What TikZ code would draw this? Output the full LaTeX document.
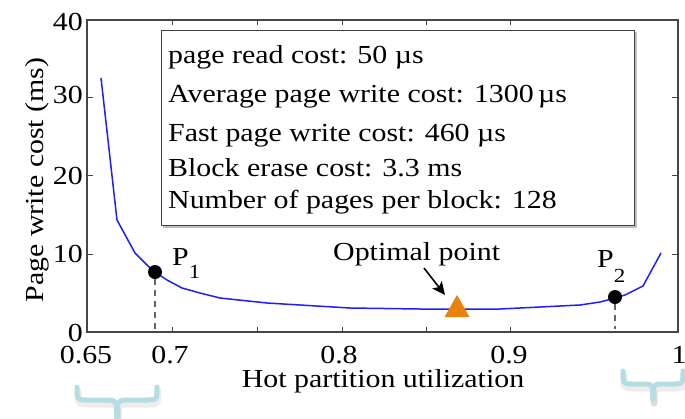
\documentclass[tikz,border=0pt]{standalone}
\usepackage{fontspec}
\setmainfont[FakeStretch=1.15]{Liberation Serif}
\usetikzlibrary{arrows.meta}
\definecolor{curveblue}{RGB}{30,30,255}
\definecolor{optorange}{RGB}{232,130,12}
\definecolor{bracecol}{RGB}{180,222,226}
\definecolor{axisgray}{RGB}{70,70,70}
\newcommand{\bigfont}{\fontsize{26bp}{30bp}\selectfont}
\newcommand{\subfont}{\fontsize{20bp}{22bp}\selectfont}
\tikzset{
  axisline/.style={draw=axisgray, line width=1.2bp},
  tickmark/.style={draw=axisgray, line width=1bp},
  ticklabel/.style={font=\bigfont, inner sep=0pt},
  legendtext/.style={font=\bigfont, inner sep=0pt, anchor=base west},
  curve/.style={draw=curveblue, line width=1.5bp, line join=round},
  dotmark/.style={circle, fill=black, minimum size=14bp, inner sep=0pt},
  dashline/.style={draw=black!60, line width=1.5bp, dash pattern=on 6bp off 5bp},
  bracestyle/.style={draw=bracecol, line width=5bp, line cap=round, line join=round},
  braceshadow/.style={draw=black, opacity=0.07, line width=7bp, line cap=round, line join=round},
  ptlabel/.style={font=\bigfont, inner sep=0pt, anchor=base west},
}
\begin{document}
\begin{tikzpicture}[x=1bp,y=-1bp]
\useasboundingbox (0,0) rectangle (685,418);
\fill[white] (0,0) rectangle (685,418);

% legend box with shadow
\draw[draw=black!25, line width=2bp] (636,32) -- (636,227) -- (163,227);
\draw[draw=black!75, line width=1bp, fill=white] (161,30) rectangle (634,225);
\node[legendtext] (l1) at (168,63) {page read cost: 50 µs};
\node[legendtext] (l2) at (168,102) {Average page write cost: 1300\,µs};
\node[legendtext] (l3) at (168,141) {Fast page write cost: 460 µs};
\node[legendtext] (l4) at (168,176) {Block erase cost: 3.3 ms};
\node[legendtext] (l5) at (168,208) {Number of pages per block: 128};

% axes box
\draw[axisline] (87,20) rectangle (678,332);
\foreach \x in {172,257,342,426,510}{
  \draw[tickmark] (\x,332) -- (\x,327);
  \draw[tickmark] (\x,20) -- (\x,25);
}
\foreach \y in {97,175,254}{
  \draw[tickmark] (87,\y) -- (93,\y);
  \draw[tickmark] (678,\y) -- (672,\y);
}

% tick labels
\node[ticklabel, anchor=east] (y40) at (83,22) {40};
\node[ticklabel, anchor=east] (y30) at (83,95) {30};
\node[ticklabel, anchor=east] (y20) at (83,176) {20};
\node[ticklabel, anchor=east] (y10) at (83,254) {10};
\node[ticklabel, anchor=east] (y0) at (83,333) {0};
\node[ticklabel, anchor=base] (x065) at (86,363) {0.65};
\node[ticklabel, anchor=base] (x07) at (170,363) {0.7};
\node[ticklabel, anchor=base] (x08) at (339,363) {0.8};
\node[ticklabel, anchor=base] (x09) at (509,363) {0.9};
\node[ticklabel, anchor=base] (x1) at (679,363) {1};

% axis titles
\node[ticklabel, anchor=base] (xlab) at (383,387) {Hot partition utilization};
\node[ticklabel, anchor=base, rotate=90] (ylab) at (43,180) {Page write cost (ms)};

% curve
\draw[curve] (101,78) -- (117,220) -- (135,253) -- (147,265) -- (155,272) -- (167,280)
  -- (182,288) -- (200,293) -- (220,298) -- (267,303) -- (350,308) -- (420,309)
  -- (457,309) -- (500,309) -- (540,307) -- (580,305) -- (600,302) -- (615,298)
  -- (625,295) -- (643,286) -- (661,253);

% special points
\node[dotmark] (p1dot) at (155,272) {};
\node[dotmark] (p2dot) at (615,297) {};
\coordinate (p1foot) at (155,329);
\coordinate (p2foot) at (615,329);
\draw[dashline] (p1dot.south) -- (p1foot);
\draw[dashline] (p2dot.south) -- (p2foot);
\node[ptlabel] (p1lab) at (172,265) {P\raisebox{-13bp}{\subfont 1}};
\node[ptlabel] (p2lab) at (597,267) {P\raisebox{-15bp}{\subfont 2}};

% optimal point
\fill[optorange] (457,295) -- (469.5,317) -- (444.5,317) -- cycle;
\coordinate (opttip) at (445,295);
\node[ptlabel] (optlab) at (333,260) {Optimal point};
\coordinate (arrstart) at (424,268);
\draw[black, line width=1.6bp, -{Stealth[length=13bp, width=12bp, inset=3bp]}] (arrstart) -- (opttip);

% braces
\begin{scope}[shift={(1,4)}]
\draw[braceshadow] (77,387) .. controls (77,400) .. (89,400) -- (105,400)
  .. controls (117,400) .. (117,425);
\draw[braceshadow] (117,425) .. controls (117,400) .. (129,400) -- (145,400)
  .. controls (157,400) .. (157,387);
\draw[braceshadow] (623,371) .. controls (623,384) .. (633,384) -- (643,384)
  .. controls (653,384) .. (653,399);
\draw[braceshadow] (653,399) .. controls (653,384) .. (663,384) -- (673,384)
  .. controls (683,384) .. (683,371);
\end{scope}
\draw[bracestyle] (77,387) .. controls (77,400) .. (89,400) -- (105,400)
  .. controls (117,400) .. (117,425);
\draw[bracestyle] (117,425) .. controls (117,400) .. (129,400) -- (145,400)
  .. controls (157,400) .. (157,387);
\draw[bracestyle] (623,371) .. controls (623,384) .. (633,384) -- (643,384)
  .. controls (653,384) .. (653,399);
\draw[bracestyle] (653,399) .. controls (653,384) .. (663,384) -- (673,384)
  .. controls (683,384) .. (683,371);
\end{tikzpicture}
\end{document}
